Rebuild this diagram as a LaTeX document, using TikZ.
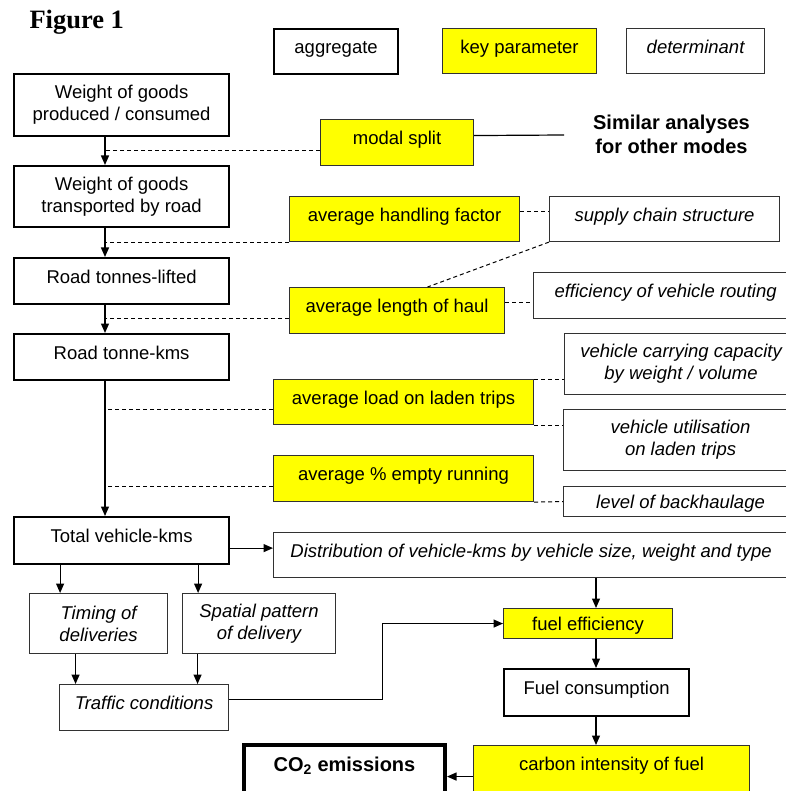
\documentclass[tikz,border=0pt]{standalone}
\usepackage{fontspec}
\setmainfont{Liberation Serif}
\setsansfont{Liberation Sans}
\usepackage{tikz}
\usetikzlibrary{arrows.meta, positioning}
\usepackage{xcolor}
\definecolor{keyyellow}{RGB}{255, 255, 0}
\definecolor{edge}{RGB}{50, 50, 50}
\tikzset{
    boxbase/.style={rectangle, anchor=north west, inner sep=0pt, align=center, font=\sffamily\fontsize{18.5}{22}\selectfont},
    aggregate/.style={boxbase, draw=black, line width=2.2pt},
    keyparam/.style={boxbase, draw=edge, line width=1.1pt, fill=keyyellow},
    determinant/.style={boxbase, draw=edge, line width=1.1pt, font=\sffamily\itshape\fontsize{18.5}{22}\selectfont},
    emission/.style={boxbase, draw=black, line width=4pt, font=\sffamily\bfseries\fontsize{20}{24}\selectfont},
    oneline/.style={text height=13.5pt, text depth=9pt},
    arrow/.style={line width=1.2pt, -{Triangle[length=9.5pt, width=8pt]}},
    dashedline/.style={line width=1pt, dash pattern=on 4pt off 3pt},
    plainline/.style={line width=1.2pt}
}
\begin{document}
\begin{tikzpicture}[x=1pt, y=-1pt]
    \useasboundingbox (0,0) rectangle (785,791);
    \node[font=\rmfamily\bfseries\fontsize{26.5}{30}\selectfont, anchor=base west] (title) at (26,29) {Figure 1};
    % legend
    \node[aggregate, oneline, minimum width=124pt, minimum height=45pt] (legaggr) at (273,28) {aggregate};
    \node[keyparam, oneline, minimum width=154pt, minimum height=45pt] (legkey) at (442,28) {key parameter};
    \node[determinant, oneline, minimum width=138pt, minimum height=45pt] (legdet) at (626,28) {determinant};
    % main chain
    \node[aggregate, minimum width=215pt, minimum height=62pt] (weight1) at (13,73) {Weight of goods\\produced / consumed};
    \node[aggregate, minimum width=215pt, minimum height=61pt] (weight2) at (13,165) {Weight of goods\\transported by road};
    \node[aggregate, oneline, minimum width=215pt, minimum height=46pt] (tlifted) at (13,257) {Road tonnes-lifted};
    \node[aggregate, oneline, minimum width=215pt, minimum height=46pt] (tkms) at (13,333) {Road tonne-kms};
    \node[aggregate, oneline, minimum width=215pt, minimum height=47pt] (total) at (13,516) {Total vehicle-kms};
    % key parameters
    \node[keyparam, oneline, minimum width=153pt, minimum height=46pt] (modal) at (320,119) {modal split};
    \node[keyparam, oneline, minimum width=230pt, minimum height=45pt] (handling) at (289,196) {average handling factor};
    \node[keyparam, oneline, minimum width=215pt, minimum height=46pt] (length) at (289,287) {average length of haul};
    \node[keyparam, oneline, minimum width=260pt, minimum height=45pt] (load) at (273,379) {average load on laden trips};
    \node[keyparam, oneline, minimum width=260pt, minimum height=46pt] (empty) at (273,455) {average \% empty running};
    \node[font=\sffamily\bfseries\fontsize{20}{24}\selectfont, align=center] (othermodes) at (671.5,134) {Similar analyses\\for other modes};
    \coordinate (modesend) at (564,135);
    % determinants
    \node[determinant, oneline, minimum width=230pt, minimum height=45pt] (supply) at (549,196) {supply chain structure};
    \node[determinant, oneline, minimum width=264pt, minimum height=46pt] (routing) at (533,272) {efficiency of vehicle routing};
    \node[determinant, minimum width=233pt, minimum height=61pt] (capacity) at (564,333) {vehicle carrying capacity\\by weight / volume};
    \node[determinant, minimum width=234pt, minimum height=61pt] (utilisation) at (563,409) {vehicle utilisation\\on laden trips};
    \node[determinant, text height=13.5pt, text depth=-2.5pt, minimum width=234pt, minimum height=30pt] (backhaul) at (563,486) {level of backhaulage};
    \node[determinant, oneline, minimum width=515pt, minimum height=45pt] (dist) at (273,532) {Distribution of vehicle-kms by vehicle size, weight and type};
    \node[determinant, minimum width=138pt, minimum height=60pt] (timing) at (29,593) {Timing of\\deliveries};
    \node[determinant, minimum width=153pt, minimum height=60pt] (spatial) at (182,593) {Spatial pattern\\of delivery};
    \node[determinant, oneline, minimum width=169pt, minimum height=46pt] (traffic) at (59,684) {Traffic conditions};
    % fuel and emissions
    \node[keyparam, text height=13.5pt, text depth=-4pt, minimum width=169pt, minimum height=30pt] (fuel) at (503,608) {fuel efficiency};
    \node[aggregate, oneline, minimum width=185pt, minimum height=47pt] (fuelcons) at (503,668) {Fuel consumption};
    \node[keyparam, oneline, minimum width=276pt, minimum height=46pt] (carbon) at (473,745) {carbon intensity of fuel};
    \node[emission, oneline, minimum width=201pt, minimum height=48pt] (co2) at (242,743) {CO\textsubscript{2} emissions};
    \coordinate (spine) at (105,0);
    \coordinate (fspine) at (596,0);
    % arrows down the main chain
    \draw[arrow] (weight1.south -| spine) -- (weight2.north -| spine);
    \draw[arrow] (weight2.south -| spine) -- (tlifted.north -| spine);
    \draw[arrow] (tlifted.south -| spine) -- (tkms.north -| spine);
    \draw[arrow] (tkms.south -| spine) -- (total.north -| spine);
    % dashed links to the chain
    \draw[dashedline] ([yshift=-8pt]modal.west) -- ([yshift=-8pt]modal.west -| spine);
    \draw[dashedline] (handling.south west) -- (handling.south west -| spine);
    \draw[dashedline] ([yshift=-8pt]length.west) -- ([yshift=-8pt]length.west -| spine);
    \draw[dashedline] ([yshift=-7.5pt]load.west) -- ([yshift=-7.5pt]load.west -| spine);
    \draw[dashedline] ([yshift=-8pt]empty.west) -- ([yshift=-8pt]empty.west -| spine);
    \draw[plainline] ([yshift=7pt]modal.east) -- (modesend);
    % dashed links to determinants
    \draw[dashedline] ([yshift=7.5pt]handling.east) -- ([yshift=7.5pt]handling.east -| supply.west);
    \draw[dashedline] (supply.south west) -- ([xshift=30.5pt]length.north);
    \draw[dashedline] ([yshift=8pt]length.east) -- ([yshift=8pt]length.east -| routing.west);
    \draw[dashedline] (load.north east) -- (load.north east -| capacity.west);
    \draw[dashedline] (load.south east) -- (load.south east -| utilisation.west);
    \draw[dashedline] (empty.south east) -- (backhaul.west);
    % lower part
    \draw[arrow] ([yshift=-7.5pt]total.east) -- ([yshift=-7.5pt]total.east -| dist.west);
    \draw[arrow] ([xshift=-61.5pt]total.south) -- ([xshift=-61.5pt]total.south |- timing.north);
    \draw[arrow] ([xshift=76.5pt]total.south) -- ([xshift=76.5pt]total.south |- spatial.north);
    \draw[arrow] ([xshift=-23pt]timing.south) -- ([xshift=-23pt]timing.south |- traffic.north);
    \draw[arrow] ([xshift=-61.5pt]spatial.south) -- ([xshift=-61.5pt]spatial.south |- traffic.north);
    \draw[arrow] ([yshift=8pt]traffic.east) -- ++(153pt,0) |- (fuel.west);
    \draw[arrow] (dist.south -| fspine) -- (fuel.north -| fspine);
    \draw[arrow] (fuel.south -| fspine) -- (fuelcons.north -| fspine);
    \draw[arrow] (fuelcons.south -| fspine) -- (carbon.north -| fspine);
    \draw[arrow] ([yshift=-8pt]carbon.west) -- ([yshift=-8pt]carbon.west -| co2.east);
\end{tikzpicture}
\end{document}
